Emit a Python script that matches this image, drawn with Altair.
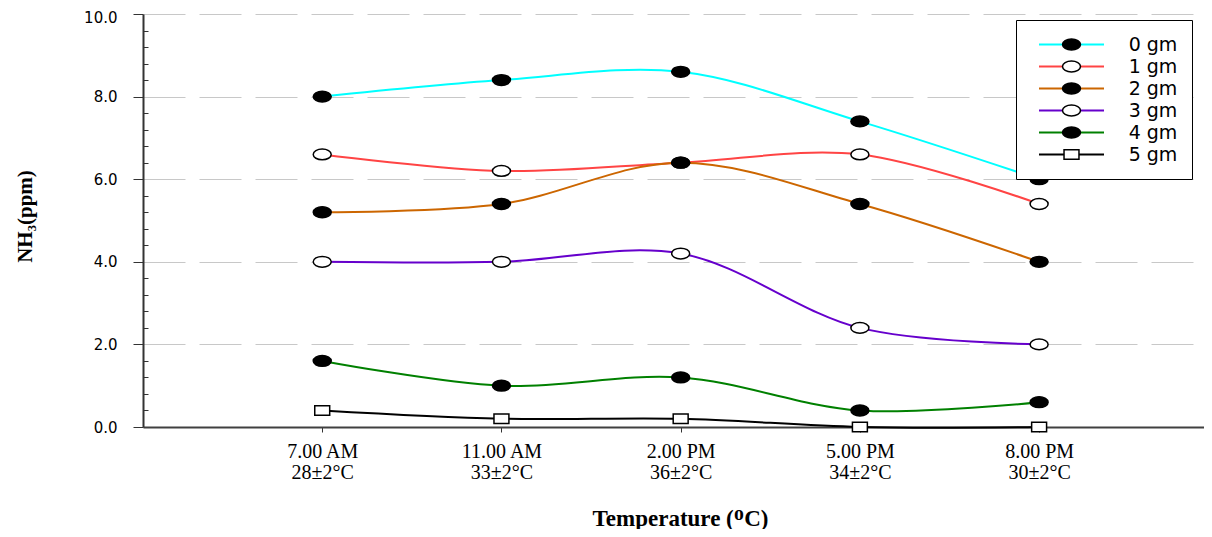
import altair as alt
import pandas as pd

# ---- data ----
times = ["7.00 AM", "11.00 AM", "2.00 PM", "5.00 PM", "8.00 PM"]
temps = ["28±2°C", "33±2°C", "36±2°C", "34±2°C", "30±2°C"]
series = ["0 gm", "1 gm", "2 gm", "3 gm", "4 gm", "5 gm"]
s0 = [8.0, 8.4, 8.6, 7.4, 6.0]
s1 = [6.6, 6.2, 6.4, 6.6, 5.4]
s2 = [5.2, 5.4, 6.4, 5.4, 4.0]
s3 = [4.0, 4.0, 4.2, 2.4, 2.0]
s4 = [1.6, 1.0, 1.2, 0.4, 0.6]
s5 = [0.4, 0.2, 0.2, 0.0, 0.0]
y_major = [0, 2, 4, 6, 8, 10]
y_minor = [0.4, 0.8, 1.2, 1.6, 2.4, 2.8, 3.2, 3.6, 4.4, 4.8, 5.2, 5.6,
           6.4, 6.8, 7.2, 7.6, 8.4, 8.8, 9.2, 9.6]

line_colors = ["#00FFFF", "#FF4444", "#CC6600", "#6600CC", "#008000", "#000000"]
marker_fills = ["black", "white", "black", "white", "black", "white"]
marker_strokes = ["black"] * 6
ellipse = "M -1 0 A 1 0.6 0 1 0 1 0 A 1 0.6 0 1 0 -1 0 Z"
rect = "M -0.83 -0.53 H 0.83 V 0.53 H -0.83 Z"
marker_shapes = [ellipse, ellipse, ellipse, ellipse, ellipse, rect]

all_values = [s0, s1, s2, s3, s4, s5]
rows = []
for name, vals in zip(series, all_values):
    for i, v in enumerate(vals):
        rows.append({"x": i + 1, "y": v, "series": name, "series2": name})
df = pd.DataFrame(rows)

label_expr = "[" + ",".join(f"['{t}','{c}']" for t, c in zip(times, temps)) + "][datum.value - 1]"

x_enc = alt.X(
    "x:Q",
    scale=alt.Scale(domain=[0, 5.92], nice=False, zero=False),
    axis=alt.Axis(
        values=[1, 2, 3, 4, 5],
        labelExpr=label_expr,
        labelFont="Liberation Serif",
        labelFontSize=20,
        labelLineHeight=21,
        labelColor="black",
        labelPadding=9,
        tickSize=5,
        tickColor="#333333",
        domainColor="#404040",
        domainWidth=2,
        grid=False,
        title="Temperature (ᴼC)",
        titleFont="Liberation Serif",
        titleFontSize=23,
        titleFontWeight="bold",
        titleColor="black",
        titleX=537,
        titleY=91,
        titleAlign="center",
        titleBaseline="middle",
    ),
)

y_major_axis = alt.Axis(
    orient="left",
    values=y_major,
    format=".1f",
    labelFont="DejaVu Sans",
    labelFontSize=15,
    labelColor="black",
    labelPadding=16,
    labelOffset={"condition": {"test": "datum.value == 10", "value": 3}, "value": 0},
    tickSize=10,
    tickColor="#333333",
    domainColor="#333333",
    domainWidth=2,
    grid=True,
    gridColor="#c8c8c8",
    gridDash=[42, 14],
    gridWidth=1,
    title="NH₃(ppm)",
    titleFont="Liberation Serif",
    titleFontSize=21,
    titleFontWeight="bold",
    titleColor="black",
    titleAngle=270,
    titleX=-118,
    titleY=202,
    titleAlign="center",
    titleBaseline="middle",
)

y_minor_axis = alt.Axis(
    orient="left",
    values=y_minor,
    labels=False,
    domain=False,
    grid=False,
    tickSize=5,
    tickColor="#333333",
    offset=-5,
    title="",
)

legend_lines = alt.Legend(
    orient="none", legendX=873, legendY=6, title=None,
    symbolType="stroke", symbolSize=4225, symbolStrokeWidth=2,
    symbolOffset=8, labelOffset=48, labelAlign="center", clipHeight=21,
    labelFont="DejaVu Sans", labelFontSize=19, labelColor="black",
    padding=14, rowPadding=1,
    fillColor="white", strokeColor="black",
)

legend_marks = alt.Legend(
    orient="none", legendX=873, legendY=6, title=None,
    symbolSize=324, symbolStrokeWidth=1.5,
    symbolOffset=31.5, labelOffset=15, clipHeight=21,
    labelFont="DejaVu Sans", labelFontSize=19,
    labelExpr="''",
    padding=14, rowPadding=1,
)

base = alt.Chart(df)

lines = base.mark_line(interpolate="catmull-rom", strokeWidth=2).encode(
    x=x_enc,
    y=alt.Y("y:Q", scale=alt.Scale(domain=[0, 10], nice=False), axis=y_major_axis),
    color=alt.Color("series:N", scale=alt.Scale(domain=series, range=line_colors), legend=legend_lines),
)

points = base.mark_point(filled=True, size=324, strokeWidth=1.5, opacity=1).encode(
    x=x_enc,
    y=alt.Y("y:Q", scale=alt.Scale(domain=[0, 10], nice=False), axis=y_minor_axis),
    fill=alt.Fill("series2:N", scale=alt.Scale(range=marker_fills), legend=legend_marks),
    stroke=alt.Stroke("series2:N", scale=alt.Scale(range=marker_strokes), legend=legend_marks),
    shape=alt.Shape("series2:N", scale=alt.Scale(range=marker_shapes), legend=legend_marks),
)

chart = (
    alt.layer(lines, points)
    .resolve_axis(y="independent")
    .properties(
        width=1061,
        height=413,
        autosize=alt.AutoSizeParams(type="none"),
        padding={"left": 135, "top": 6, "right": 0, "bottom": 102},
        background="white",
    )
    .configure_view(strokeWidth=0)
)

chart.save("out.html", embed_options={"renderer": "svg", "actions": False})
